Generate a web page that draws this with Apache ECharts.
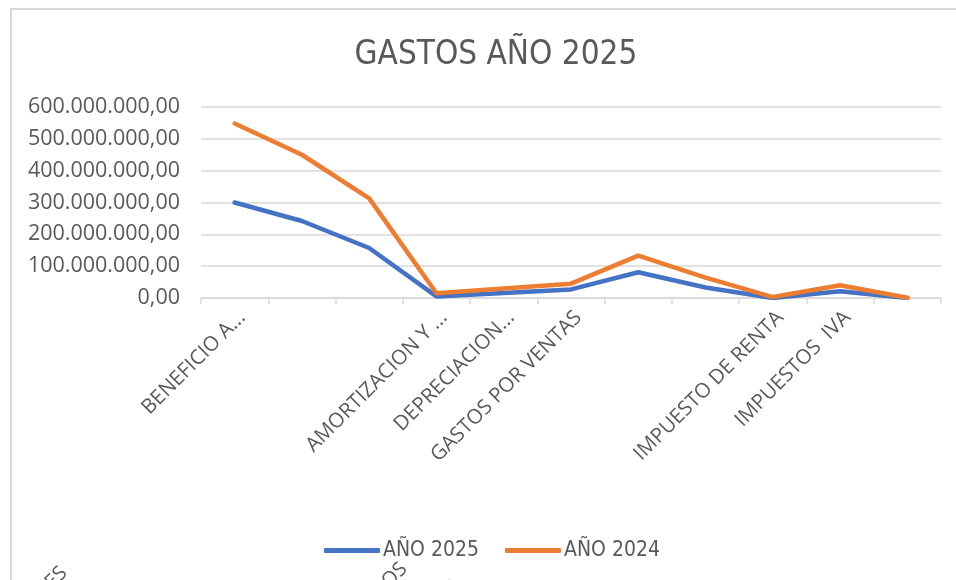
<!DOCTYPE html>
<html>
<head>
<meta charset="utf-8">
<title>GASTOS AÑO 2025</title>
<script src="https://cdn.jsdelivr.net/npm/echarts@6/dist/echarts.min.js"></script>
<style>
    html, body { margin: 0; padding: 0; background: #fff; }
    #grafico { width: 956px; height: 580px; }
</style>
</head>
<body>
<div id="grafico"></div>
<script>
// categorias del eje x (las que Excel no alcanza a mostrar van sin texto visible)
var categorias = ['BENEFICIO A...', 'SUELDOS Y PRESTACIONES SOCIALES', 'GASTOS GENERALES',
    'AMORTIZACION Y ...', 'DEPRECIACION...', 'GASTOS POR VENTAS', 'GASTOS ADMINISTRATIVOS',
    'GASTOS FINANCIEROS Y BANCARIOS', 'IMPUESTO DE RENTA', 'IMPUESTOS  IVA', 'OTROS GASTOS'];
var visibles = [true, false, false, true, true, true, false, false, true, true, false];

// valores
var anio2025 = [300000000, 242000000, 157000000, 5000000, 16000000, 27000000, 81000000, 33000000, 0, 21000000, 0];
var anio2024 = [548000000, 450000000, 313000000, 15000000, 30000000, 45000000, 133000000, 64000000, 3000000, 40000000, 1000000];

// ticks del eje y
var yMin = 0, yMax = 600000000, yPaso = 100000000;

var gris = '#595959';
var linea = '#d9d9d9';
var fuenteAngosta = "'Liberation Sans Narrow', 'DejaVu Sans Condensed', sans-serif";
var fuenteEjes = "'Open Sans', sans-serif";

// formato 600.000.000,00
function formatoNumero(v){
    var entero = Math.round(v).toString().replace(/\B(?=(\d{3})+(?!\d))/g, '.');
    return entero + ',00';
}

var myChart = echarts.init(document.getElementById('grafico'));

var option = {
    backgroundColor: '#fff',
    animation: false,
    title: {
        text: 'GASTOS AÑO 2025',
        left: 491,
        textAlign: 'center',
        top: 34,
        textStyle: {
            fontFamily: fuenteAngosta,
            fontSize: 33,
            fontWeight: 'normal',
            color: gris
        }
    },
    legend: {
        data: ['AÑO 2025', 'AÑO 2024'],
        left: 319,
        top: 535,
        icon: 'roundRect',
        itemWidth: 56,
        itemHeight: 5,
        itemGap: 26,
        textStyle: {
            fontFamily: fuenteAngosta,
            fontSize: 21,
            color: gris,
            padding: [0, 0, 0, -2]
        }
    },
    grid: {
        left: 201,
        right: 15,
        top: 107,
        bottom: 282
    },
    xAxis: {
        type: 'category',
        data: categorias,
        boundaryGap: true,
        axisLine: { lineStyle: { color: linea, width: 1.5 } },
        axisTick: { show: true, length: 6, lineStyle: { color: linea, width: 1.5 } },
        axisLabel: {
            interval: 0,
            rotate: 45,
            margin: 9,
            verticalAlign: 'top',
            fontFamily: fuenteEjes,
            fontSize: 20.5,
            color: gris,
            formatter: function(valor, idx){
                return visibles[idx] ? valor : '';
            }
        }
    },
    yAxis: {
        type: 'value',
        min: yMin,
        max: yMax,
        interval: yPaso,
        axisLine: { show: false },
        axisTick: { show: false },
        splitLine: { lineStyle: { color: linea, width: 1.5 } },
        axisLabel: {
            margin: 21,
            fontFamily: fuenteEjes,
            fontSize: 21.5,
            color: gris,
            formatter: formatoNumero
        }
    },
    graphic: [
        // marco del area del grafico
        {
            type: 'rect',
            shape: { x: 11, y: 9, width: 1000, height: 600 },
            style: { fill: null, stroke: linea, lineWidth: 2 },
            silent: true
        },
        // restos de etiquetas cortadas abajo
        { type: 'text', x: 64, y: 570, rotation: Math.PI / 4,
          style: { text: 'ES', fontFamily: fuenteEjes, fontSize: 20, fill: gris, align: 'right', verticalAlign: 'middle' } },
        { type: 'text', x: 404, y: 566, rotation: Math.PI / 4,
          style: { text: 'OS', fontFamily: fuenteEjes, fontSize: 20, fill: gris, align: 'right', verticalAlign: 'middle' } },
        { type: 'text', x: 460, y: 587, rotation: Math.PI / 4,
          style: { text: 'É', fontFamily: fuenteEjes, fontSize: 20, fill: gris, align: 'right', verticalAlign: 'middle' } }
    ],
    series: [
        {
            name: 'AÑO 2025',
            type: 'line',
            data: anio2025,
            symbol: 'none',
            color: '#4472C4',
            lineStyle: { width: 4.5, cap: 'round', join: 'round' }
        },
        {
            name: 'AÑO 2024',
            type: 'line',
            data: anio2024,
            symbol: 'none',
            color: '#ED7D31',
            lineStyle: { width: 4.5, cap: 'round', join: 'round' }
        }
    ]
};
myChart.setOption(option);
</script>
</body>
</html>
